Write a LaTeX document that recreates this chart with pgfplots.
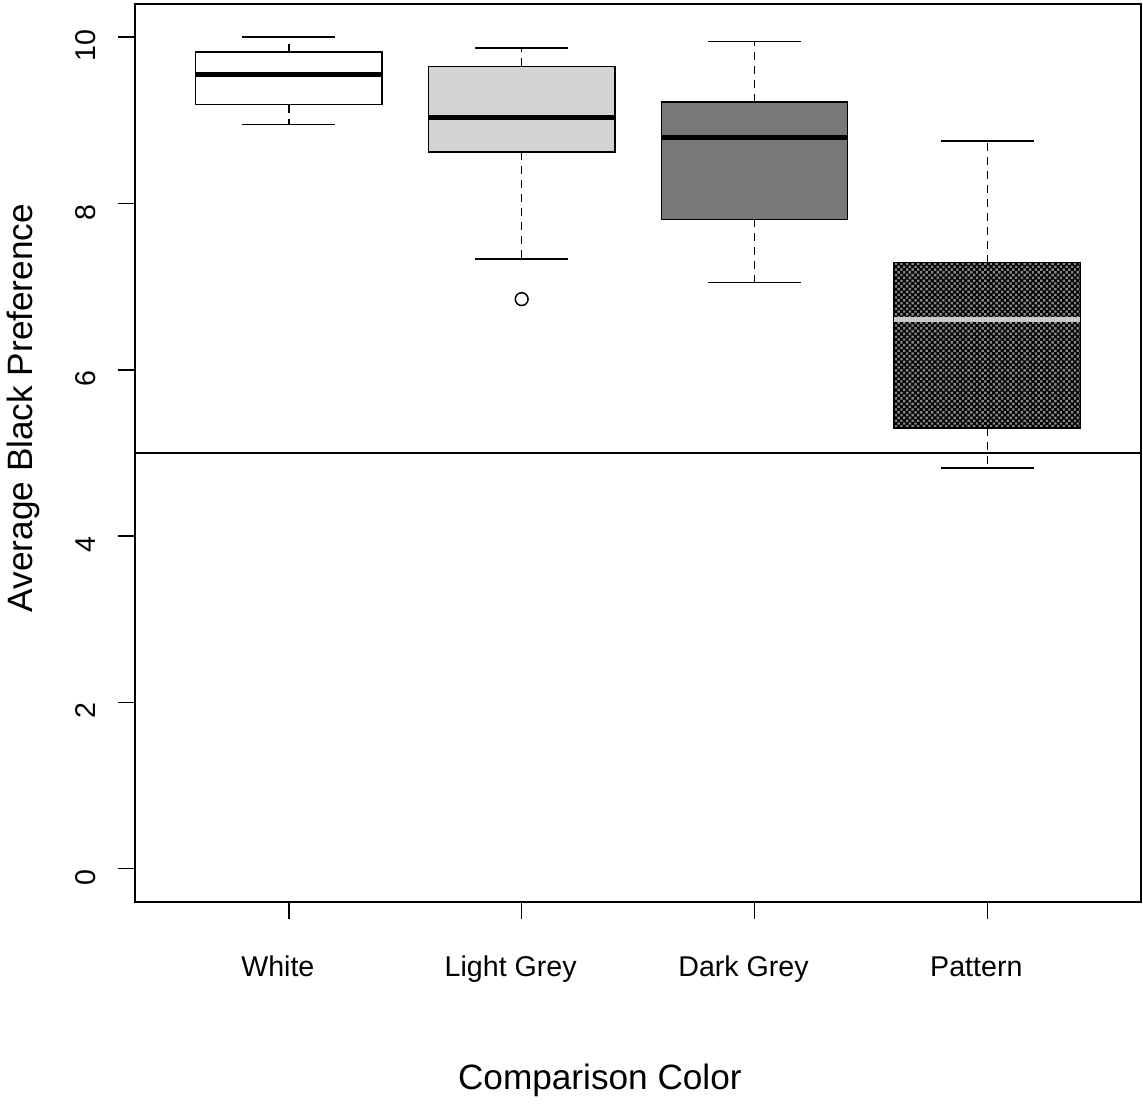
\documentclass[border=0pt]{standalone}
\usepackage{pgfplots}
\pgfplotsset{compat=1.18}
\usepackage{fontspec}
\setmainfont{Liberation Sans}
\usetikzlibrary{patterns}
\definecolor{lgrey}{RGB}{211,211,211}
\definecolor{dgrey}{RGB}{120,120,120}
\definecolor{medgrey}{RGB}{200,200,200}
\definecolor{dotgrey}{RGB}{135,135,135}
\pgfdeclarepatternformonly{rdots}{\pgfqpoint{-1pt}{-1pt}}{\pgfqpoint{4pt}{4pt}}{\pgfqpoint{2.8pt}{2.8pt}}{%
  \pgfpathrectangle{\pgfqpoint{-0.6pt}{-0.6pt}}{\pgfqpoint{1.2pt}{1.2pt}}%
  \pgfpathrectangle{\pgfqpoint{0.8pt}{0.8pt}}{\pgfqpoint{1.2pt}{1.2pt}}%
  \pgfusepath{fill}}
\begin{document}
\begin{tikzpicture}
\begin{axis}[name=ax, scale only axis, width=503pt, height=449pt,
 xmin=0.34, xmax=4.66, ymin=-0.4, ymax=10.4,
 axis line style={line width=0.75pt},
 tick pos=left, tick align=outside, major tick length=8.5pt,
 tick style={black, line width=0.75pt},
 xtick={1,2,3,4}, xticklabels={White, Light Grey, Dark Grey, Pattern},
 ytick={0,2,4,6,8,10},
 ticklabel style={font=\fontsize{14.3}{16}\selectfont},
 /pgf/number format/assume math mode=true,
 xticklabel style={anchor=base, yshift=-29pt, xshift=-5.5pt},
 yticklabel shift=11.5pt,
 yticklabel style={yshift=-4.3pt, rotate=90, anchor=base},
 xlabel={Comparison Color}, ylabel={Average Black Preference},
 label style={font=\fontsize{17.6}{20}\selectfont},
 xlabel style={at={(axis description cs:0.462,-0.2094)}, anchor=base},
 ylabel style={at={(axis description cs:-0.1024,0.550)}, anchor=base},
 whisk/.style={black, line width=0.75pt, dash pattern=on 4pt off 3pt},
 cap/.style={black, line width=0.75pt},
 boxs/.style={draw=black, line width=0.75pt},
 med/.style={line width=2.5pt},
]
% White: 8.95 9.19 9.55 9.82 10.0
\addplot[whisk] coordinates {(1,9.82) (1,10.0)};
\addplot[whisk] coordinates {(1,9.19) (1,8.95)};
\addplot[cap] coordinates {(0.8,10.0) (1.2,10.0)};
\addplot[cap] coordinates {(0.8,8.95) (1.2,8.95)};
\addplot[boxs, fill=white] coordinates {(0.6,9.19) (1.4,9.19) (1.4,9.82) (0.6,9.82)} -- cycle;
\addplot[med, black] coordinates {(0.6,9.55) (1.4,9.55)};
% Light Grey: 7.33 8.62 9.03 9.65 9.87, outlier 6.85
\addplot[whisk] coordinates {(2,9.65) (2,9.87)};
\addplot[whisk] coordinates {(2,8.62) (2,7.33)};
\addplot[cap] coordinates {(1.8,9.87) (2.2,9.87)};
\addplot[cap] coordinates {(1.8,7.33) (2.2,7.33)};
\addplot[boxs, fill=lgrey] coordinates {(1.6,8.62) (2.4,8.62) (2.4,9.65) (1.6,9.65)} -- cycle;
\addplot[med, black] coordinates {(1.6,9.03) (2.4,9.03)};
\addplot[only marks, mark=o, mark size=3.2pt, mark options={line width=0.75pt, black}] coordinates {(2,6.85)};
% Dark Grey: 7.05 7.81 8.80 9.22 9.95
\addplot[whisk] coordinates {(3,9.22) (3,9.95)};
\addplot[whisk] coordinates {(3,7.81) (3,7.05)};
\addplot[cap] coordinates {(2.8,9.95) (3.2,9.95)};
\addplot[cap] coordinates {(2.8,7.05) (3.2,7.05)};
\addplot[boxs, fill=dgrey] coordinates {(2.6,7.81) (3.4,7.81) (3.4,9.22) (2.6,9.22)} -- cycle;
\addplot[med, black] coordinates {(2.6,8.80) (3.4,8.80)};
% Pattern: 4.82 5.30 6.60 7.29 8.75
\addplot[whisk] coordinates {(4,7.29) (4,8.75)};
\addplot[whisk] coordinates {(4,5.30) (4,4.82)};
\addplot[cap] coordinates {(3.8,8.75) (4.2,8.75)};
\addplot[cap] coordinates {(3.8,4.82) (4.2,4.82)};
\addplot[boxs, fill=black, postaction={pattern=rdots, pattern color=dotgrey}] coordinates {(3.6,5.30) (4.4,5.30) (4.4,7.29) (3.6,7.29)} -- cycle;
\addplot[med, medgrey] coordinates {(3.6,6.60) (4.4,6.60)};
% reference line
\addplot[black, line width=0.75pt] coordinates {(0.34,5) (4.66,5)};
\end{axis}
\path ([shift={(-67.5pt,-98.5pt)}]ax.south west) rectangle ([shift={(1pt,2pt)}]ax.north east);
\end{tikzpicture}
\end{document}
